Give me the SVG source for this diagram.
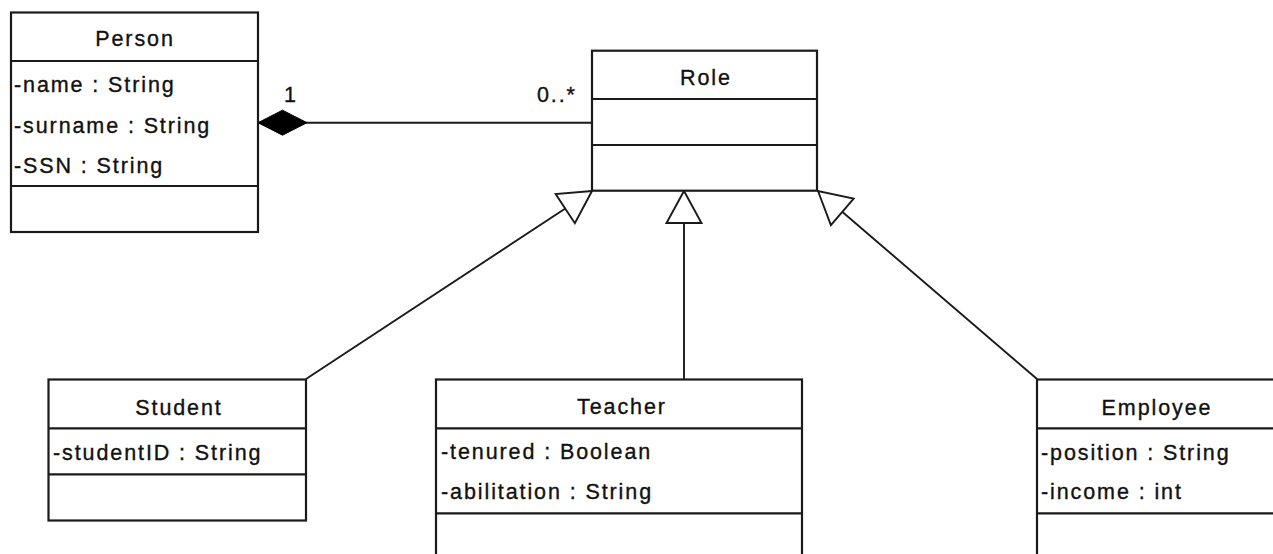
<svg xmlns="http://www.w3.org/2000/svg" width="1273" height="554" viewBox="0 0 1273 554">
  <style>
    .box { fill: #ffffff; stroke: #1a1a1a; stroke-width: 2.2; }
    .sep { stroke: #1a1a1a; stroke-width: 2.2; }
    .edge { fill: none; stroke: #1a1a1a; stroke-width: 1.9; }
    text { font-family: "Liberation Sans", Arial, sans-serif; font-size: 21.5px; letter-spacing: 1.9px; fill: #111111; stroke: #111111; stroke-width: 0.35px; }
    .title { text-anchor: middle; }
  </style>
  <defs>
    <!-- hollow triangle for generalization -->
    <marker id="gen" markerUnits="userSpaceOnUse" viewBox="-3 -3 38 41" markerWidth="38" markerHeight="41" refX="32" refY="17.5" orient="auto" overflow="visible">
      <path d="M32,17.5 L0,0 L0,35 Z" fill="#ffffff" stroke="#1a1a1a" stroke-width="1.9" stroke-linejoin="miter"/>
    </marker>
    <!-- filled diamond for composition -->
    <marker id="comp" markerUnits="userSpaceOnUse" viewBox="-2 -15 53 30" markerWidth="53" markerHeight="30" refX="0" refY="0" orient="auto" overflow="visible">
      <path d="M0,0 L24.5,-12.5 L49,0 L24.5,12.5 Z" fill="#000000" stroke="#000000" stroke-width="1"/>
    </marker>
  </defs>

  <g id="connectors">
    <path class="edge" d="M258,122.7 L592,122.7" marker-start="url(#comp)"/>
    <text x="284" y="102">1</text>
    <text x="537" y="102">0..*</text>
    <path class="edge" d="M306,379 L592,191" marker-end="url(#gen)"/>
    <path class="edge" d="M684,379 L684,191" marker-end="url(#gen)"/>
    <path class="edge" d="M1037,379 L818,191" marker-end="url(#gen)"/>
  </g>

  <g id="person">
    <rect class="box" x="11" y="12.5" width="247" height="219.5"/>
    <line class="sep" x1="11" y1="61" x2="258" y2="61"/>
    <line class="sep" x1="11" y1="186" x2="258" y2="186"/>
    <text class="title" x="135" y="45.5">Person</text>
    <text x="14" y="92">-name : String</text>
    <text x="14" y="132.5">-surname : String</text>
    <text x="14" y="173">-SSN : String</text>
  </g>

  <g id="role">
    <rect class="box" x="592" y="50.7" width="225" height="140"/>
    <line class="sep" x1="592" y1="99" x2="817" y2="99"/>
    <line class="sep" x1="592" y1="145" x2="817" y2="145"/>
    <text class="title" x="706" y="85">Role</text>
  </g>

  <g id="student">
    <rect class="box" x="48.5" y="379.5" width="257.5" height="141"/>
    <line class="sep" x1="48.5" y1="428.3" x2="306" y2="428.3"/>
    <line class="sep" x1="48.5" y1="474.3" x2="306" y2="474.3"/>
    <text class="title" x="179" y="415">Student</text>
    <text x="53" y="460">-studentID : String</text>
  </g>

  <g id="teacher">
    <rect class="box" x="436" y="379.5" width="366" height="200"/>
    <line class="sep" x1="436" y1="428.3" x2="802" y2="428.3"/>
    <line class="sep" x1="436" y1="513.3" x2="802" y2="513.3"/>
    <text class="title" x="622" y="414">Teacher</text>
    <text x="441" y="458.5">-tenured : Boolean</text>
    <text x="441" y="499">-abilitation : String</text>
  </g>

  <g id="employee">
    <rect class="box" x="1037" y="379.5" width="240" height="200"/>
    <line class="sep" x1="1037" y1="428.3" x2="1277" y2="428.3"/>
    <line class="sep" x1="1037" y1="513.3" x2="1277" y2="513.3"/>
    <text class="title" x="1157" y="415">Employee</text>
    <text x="1041" y="460">-position : String</text>
    <text x="1041" y="499">-income : int</text>
  </g>
</svg>
